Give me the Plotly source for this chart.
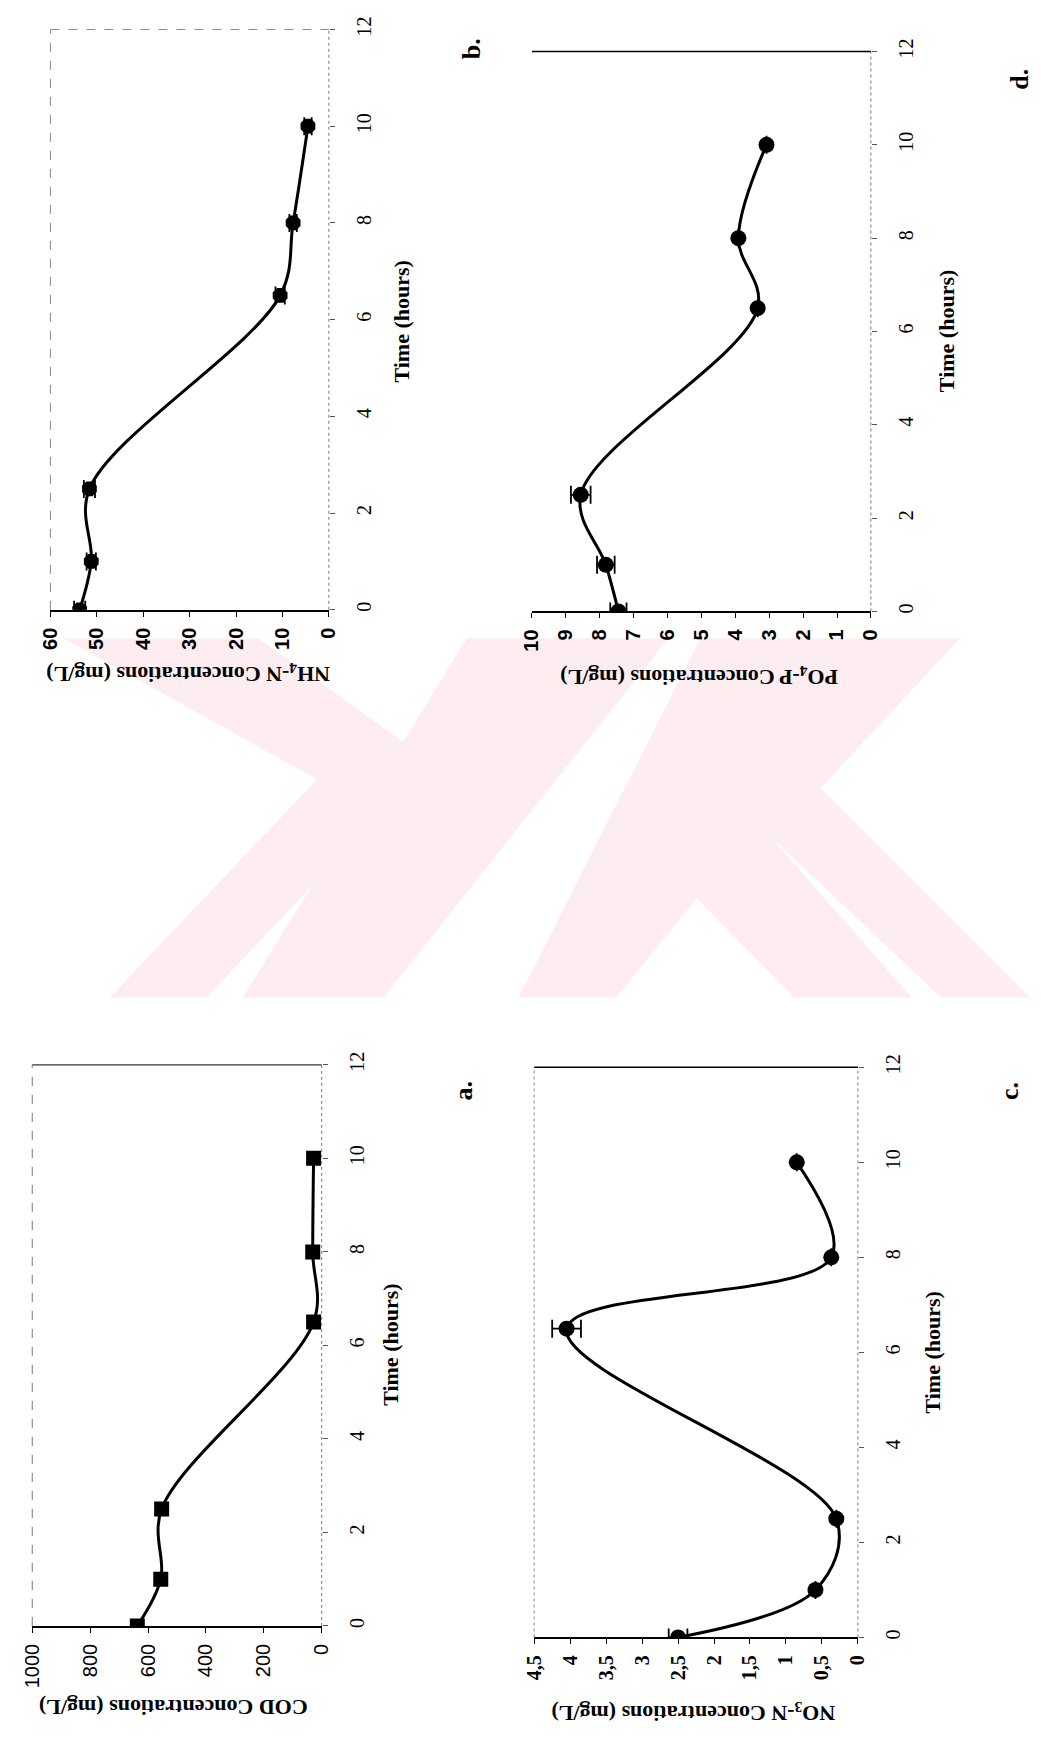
import plotly.graph_objects as go

# ---------------- data ----------------
time_h = [0, 1, 2.5, 6.5, 8, 10]

cod_mgL = [637, 556, 553, 28, 31, 28]
nh4_mgL = [53.7, 51.2, 51.6, 10.5, 7.7, 4.5]
nh4_err = [1.2, 1.0, 1.2, 1.0, 0.8, 0.8]
no3_mgL = [2.50, 0.59, 0.30, 4.05, 0.37, 0.85]
no3_err = [0.13, 0.0, 0.0, 0.20, 0.0, 0.0]
po4_mgL = [7.45, 7.82, 8.56, 3.34, 3.91, 3.08]
po4_err = [0.24, 0.26, 0.29, 0.0, 0.0, 0.0]

time_ticks = [0, 2, 4, 6, 8, 10, 12]
cod_ticks = [0, 200, 400, 600, 800, 1000]
nh4_ticks = [0, 10, 20, 30, 40, 50, 60]
no3_ticks = [0, 0.5, 1, 1.5, 2, 2.5, 3, 3.5, 4, 4.5]
no3_ticklabels = ["0", "0,5", "1", "1,5", "2", "2,5", "3", "3,5", "4", "4,5"]
po4_ticks = [0, 1, 2, 3, 4, 5, 6, 7, 8, 9, 10]

# ---------------- page geometry ----------------
W, H = 1041, 1737
SERIF = "Liberation Serif"
SANS = "Liberation Sans"


def fx(x):
    return x / W


def fy(y):
    return 1 - y / H


panels = [
    dict(name="a", conc=cod_mgL, err=None, symbol="square", msize=15, cmax=1000,
         tv=cod_ticks, tt=[str(v) for v in cod_ticks], tfont=SANS, tbold=False,
         box=(20.7, 316.7, 1061, 1627),
         ctitle="<b>COD Concentrations (mg/L)</b>", ctpos=(165, 1710),
         ttpos=(387, 1343), lpos=(462, 1087),
         top=dict(color="#333", dash="solid", width=1.3),
         left=dict(color="#777", dash="dash", width=1)),
    dict(name="b", conc=nh4_mgL, err=nh4_err, symbol="octagon", msize=16, cmax=60,
         tv=nh4_ticks, tt=[str(v) for v in nh4_ticks], tfont=SANS, tbold=True,
         box=(39.3, 324, 16.6, 602),
         ctitle="<b>NH<sub>4</sub>-N Concentrations (mg/L)</b>", ctpos=(180, 666),
         ttpos=(398, 311), lpos=(470, 36),
         top=dict(color="#888", dash="dash", width=1),
         left=dict(color="#888", dash="dash", width=1)),
    dict(name="c", conc=no3_mgL, err=no3_err, symbol="circle", msize=16, cmax=4.5,
         tv=no3_ticks, tt=no3_ticklabels, tfont=SERIF, tbold=True,
         box=(534, 865, 1063.5, 1638.6),
         ctitle="<b>NO<sub>3</sub>-N Concentrations (mg/L)</b>", ctpos=(697, 1714),
         ttpos=(941, 1351), lpos=(1020, 1087),
         top=dict(color="black", dash="solid", width=1.5),
         left=dict(color="#888", dash="dot", width=1)),
    dict(name="d", conc=po4_mgL, err=po4_err, symbol="circle", msize=16, cmax=10,
         tv=po4_ticks, tt=[str(v) for v in po4_ticks], tfont=SANS, tbold=True,
         box=(531.7, 878.3, 38.8, 603.7),
         ctitle="<b>PO<sub>4</sub>-P Concentrations (mg/L)</b>", ctpos=(702, 669),
         ttpos=(955, 321), lpos=(1030, 67),
         top=dict(color="black", dash="solid", width=1.5),
         left=None),
]

fig = go.Figure()
layout = dict(width=W, height=H, margin=dict(l=0, r=0, t=0, b=0), autosize=False,
              paper_bgcolor="white", plot_bgcolor="rgba(0,0,0,0)", showlegend=False)
shapes = []
annotations = []

# watermark (decorative, light pink polygons in page pixels)
wm_polys = [
    [(53, 631), (252, 631), (400, 735), (465, 631), (671, 631), (380, 993), (236, 993),
     (307, 880), (199, 993), (100, 993), (312, 773)],
    [(704, 631), (969, 631), (827, 782), (1041, 993), (950, 993), (775, 830), (920, 993),
     (800, 993), (700, 893), (618, 993), (518, 993)],
]
for poly in wm_polys:
    path = "M " + " L ".join(f"{fx(x):.5f},{fy(y):.5f}" for x, y in poly) + " Z"
    shapes.append(dict(type="path", path=path, xref="paper", yref="paper",
                       fillcolor="#fdecf0", line=dict(width=0), layer="below"))

for i, p in enumerate(panels, start=1):
    xs = "x" if i == 1 else f"x{i}"
    ys = "y" if i == 1 else f"y{i}"
    x0, x1, y0, y1 = p["box"]
    err = None
    if p["err"] is not None:
        err = dict(type="data", array=p["err"], visible=True, color="black",
                   thickness=1.8, width=9)
    fig.add_trace(go.Scatter(
        x=p["conc"], y=time_h, xaxis=xs, yaxis=ys, mode="lines+markers",
        line=dict(shape="spline", smoothing=1, color="black", width=3),
        marker=dict(symbol=p["symbol"], size=p["msize"], color="black"),
        error_x=err, hoverinfo="skip"))

    tt = [f"<b>{t}</b>" for t in p["tt"]] if p["tbold"] else p["tt"]
    layout["xaxis" if i == 1 else f"xaxis{i}"] = dict(
        domain=[fx(x0), fx(x1)], anchor=ys, range=[p["cmax"], 0],
        tickmode="array", tickvals=p["tv"], ticktext=tt, tickangle=-90,
        ticks="outside", ticklen=5, tickwidth=1.2, tickcolor="black",
        ticklabelstandoff=3,
        tickfont=dict(family=p["tfont"], size=20, color="black"),
        showline=True, linecolor="black", linewidth=1.8,
        showgrid=False, zeroline=False, fixedrange=True)
    layout["yaxis" if i == 1 else f"yaxis{i}"] = dict(
        domain=[fy(y1), fy(y0)], anchor=xs, range=[0, 12], side="right",
        tickmode="array", tickvals=time_ticks, tickangle=-90,
        ticks="outside", ticklen=5, tickwidth=1, tickcolor="#555",
        ticklabelstandoff=12,
        tickfont=dict(family=SERIF, size=20, color="black"),
        showline=False, showgrid=False, zeroline=False, fixedrange=True)

    xd = f"{xs} domain"
    yd = f"{ys} domain"
    # time axis line (dotted, at concentration 0)
    shapes.append(dict(type="line", xref=xd, yref=yd, x0=1, x1=1, y0=0, y1=1,
                       line=dict(color="#777", width=1, dash="dot")))
    # top border (time = 12)
    shapes.append(dict(type="line", xref=xd, yref=yd, x0=0, x1=1, y0=1, y1=1,
                       line=p["top"]))
    if p["left"] is not None:
        shapes.append(dict(type="line", xref=xd, yref=yd, x0=0, x1=0, y0=0, y1=1,
                           line=p["left"]))

    annotations.append(dict(text=p["ctitle"], x=fx(p["ctpos"][0]), y=fy(p["ctpos"][1]),
                            xref="paper", yref="paper", showarrow=False, textangle=180,
                            xanchor="center", yanchor="middle",
                            font=dict(family=SERIF, size=22, color="black")))
    annotations.append(dict(text="<b>Time (hours)</b>", x=fx(p["ttpos"][0]), y=fy(p["ttpos"][1]),
                            xref="paper", yref="paper", showarrow=False, textangle=-90,
                            xanchor="center", yanchor="middle",
                            font=dict(family=SERIF, size=22, color="black")))
    annotations.append(dict(text=f"<b>{p['name']}.</b>", x=fx(p["lpos"][0]), y=fy(p["lpos"][1]),
                            xref="paper", yref="paper", showarrow=False, textangle=-90,
                            xanchor="center", yanchor="middle",
                            font=dict(family=SERIF, size=26, color="black")))

layout["shapes"] = shapes
layout["annotations"] = annotations
fig.update_layout(**layout)
fig.write_html("out.html")
